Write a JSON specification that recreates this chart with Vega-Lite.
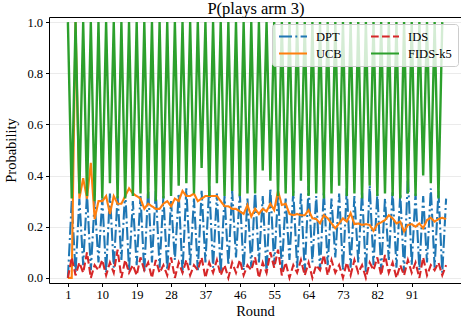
{
"$schema":"https://vega.github.io/schema/vega-lite/v6.json",
"width":412,"height":266,
"autosize":{"type":"none"},
"padding":{"left":49,"top":17,"right":0,"bottom":43},
"title":{"text":"P(plays arm 3)","font":"Liberation Serif","fontSize":16.5,"fontWeight":"normal","color":"black","offset":-1,"anchor":"middle","dx":1},
"data":{"values":[
{"r":1,"DPT":0.00,"UCB":0,"IDS":0.00,"FIDS-k5":1},
{"r":2,"DPT":0.30,"UCB":0,"IDS":0.08,"FIDS-k5":0.31},
{"r":3,"DPT":0.02,"UCB":1,"IDS":0.01,"FIDS-k5":1},
{"r":4,"DPT":0.31,"UCB":0.31,"IDS":0.06,"FIDS-k5":0.33},
{"r":5,"DPT":0.05,"UCB":0.39,"IDS":0.02,"FIDS-k5":1},
{"r":6,"DPT":0.33,"UCB":0.31,"IDS":0.10,"FIDS-k5":0.32},
{"r":7,"DPT":0.03,"UCB":0.45,"IDS":0.00,"FIDS-k5":1},
{"r":8,"DPT":0.30,"UCB":0.23,"IDS":0.05,"FIDS-k5":0.30},
{"r":9,"DPT":0.06,"UCB":0.30,"IDS":0.03,"FIDS-k5":1},
{"r":10,"DPT":0.31,"UCB":0.30,"IDS":0.07,"FIDS-k5":0.31},
{"r":11,"DPT":0.02,"UCB":0.32,"IDS":0.01,"FIDS-k5":1},
{"r":12,"DPT":0.33,"UCB":0.25,"IDS":0.06,"FIDS-k5":0.37},
{"r":13,"DPT":0.04,"UCB":0.32,"IDS":0.02,"FIDS-k5":1},
{"r":14,"DPT":0.32,"UCB":0.29,"IDS":0.11,"FIDS-k5":0.31},
{"r":15,"DPT":0.07,"UCB":0.29,"IDS":0.00,"FIDS-k5":1},
{"r":16,"DPT":0.34,"UCB":0.32,"IDS":0.07,"FIDS-k5":0.31},
{"r":17,"DPT":0.03,"UCB":0.35,"IDS":0.02,"FIDS-k5":1},
{"r":18,"DPT":0.30,"UCB":0.33,"IDS":0.05,"FIDS-k5":0.32},
{"r":19,"DPT":0.05,"UCB":0.32,"IDS":0.01,"FIDS-k5":1},
{"r":20,"DPT":0.32,"UCB":0.31,"IDS":0.08,"FIDS-k5":0.33},
{"r":21,"DPT":0.02,"UCB":0.27,"IDS":0.03,"FIDS-k5":1},
{"r":22,"DPT":0.35,"UCB":0.29,"IDS":0.06,"FIDS-k5":0.31},
{"r":23,"DPT":0.06,"UCB":0.28,"IDS":0.00,"FIDS-k5":1},
{"r":24,"DPT":0.34,"UCB":0.27,"IDS":0.07,"FIDS-k5":0.30},
{"r":25,"DPT":0.04,"UCB":0.27,"IDS":0.02,"FIDS-k5":1},
{"r":26,"DPT":0.32,"UCB":0.29,"IDS":0.05,"FIDS-k5":0.31},
{"r":27,"DPT":0.03,"UCB":0.30,"IDS":0.01,"FIDS-k5":1},
{"r":28,"DPT":0.30,"UCB":0.28,"IDS":0.08,"FIDS-k5":0.32},
{"r":29,"DPT":0.07,"UCB":0.31,"IDS":0.00,"FIDS-k5":1},
{"r":30,"DPT":0.33,"UCB":0.30,"IDS":0.06,"FIDS-k5":0.36},
{"r":31,"DPT":0.02,"UCB":0.34,"IDS":0.02,"FIDS-k5":1},
{"r":32,"DPT":0.35,"UCB":0.32,"IDS":0.07,"FIDS-k5":0.37},
{"r":33,"DPT":0.05,"UCB":0.32,"IDS":0.01,"FIDS-k5":1},
{"r":34,"DPT":0.31,"UCB":0.33,"IDS":0.05,"FIDS-k5":0.33},
{"r":35,"DPT":0.03,"UCB":0.30,"IDS":0.03,"FIDS-k5":1},
{"r":36,"DPT":0.34,"UCB":0.31,"IDS":0.08,"FIDS-k5":0.43},
{"r":37,"DPT":0.06,"UCB":0.32,"IDS":0.00,"FIDS-k5":1},
{"r":38,"DPT":0.36,"UCB":0.32,"IDS":0.06,"FIDS-k5":0.32},
{"r":39,"DPT":0.04,"UCB":0.32,"IDS":0.02,"FIDS-k5":1},
{"r":40,"DPT":0.33,"UCB":0.32,"IDS":0.07,"FIDS-k5":0.37},
{"r":41,"DPT":0.02,"UCB":0.30,"IDS":0.01,"FIDS-k5":1},
{"r":42,"DPT":0.32,"UCB":0.28,"IDS":0.05,"FIDS-k5":0.32},
{"r":43,"DPT":0.05,"UCB":0.28,"IDS":0.00,"FIDS-k5":1},
{"r":44,"DPT":0.34,"UCB":0.27,"IDS":0.06,"FIDS-k5":0.34},
{"r":45,"DPT":0.08,"UCB":0.27,"IDS":0.02,"FIDS-k5":1},
{"r":46,"DPT":0.33,"UCB":0.26,"IDS":0.07,"FIDS-k5":0.32},
{"r":47,"DPT":0.03,"UCB":0.25,"IDS":0.01,"FIDS-k5":1},
{"r":48,"DPT":0.31,"UCB":0.285,"IDS":0.05,"FIDS-k5":0.33},
{"r":49,"DPT":0.04,"UCB":0.24,"IDS":0.03,"FIDS-k5":1},
{"r":50,"DPT":0.34,"UCB":0.27,"IDS":0.08,"FIDS-k5":0.33},
{"r":51,"DPT":0.06,"UCB":0.25,"IDS":0.00,"FIDS-k5":1},
{"r":52,"DPT":0.32,"UCB":0.27,"IDS":0.06,"FIDS-k5":0.42},
{"r":53,"DPT":0.02,"UCB":0.26,"IDS":0.02,"FIDS-k5":1},
{"r":54,"DPT":0.35,"UCB":0.29,"IDS":0.10,"FIDS-k5":0.38},
{"r":55,"DPT":0.05,"UCB":0.265,"IDS":0.04,"FIDS-k5":1},
{"r":56,"DPT":0.33,"UCB":0.34,"IDS":0.11,"FIDS-k5":0.32},
{"r":57,"DPT":0.03,"UCB":0.285,"IDS":0.01,"FIDS-k5":1},
{"r":58,"DPT":0.31,"UCB":0.29,"IDS":0.06,"FIDS-k5":0.33},
{"r":59,"DPT":0.07,"UCB":0.25,"IDS":0.00,"FIDS-k5":1},
{"r":60,"DPT":0.34,"UCB":0.245,"IDS":0.05,"FIDS-k5":0.32},
{"r":61,"DPT":0.04,"UCB":0.25,"IDS":0.02,"FIDS-k5":1},
{"r":62,"DPT":0.33,"UCB":0.245,"IDS":0.07,"FIDS-k5":0.38},
{"r":63,"DPT":0.02,"UCB":0.245,"IDS":0.01,"FIDS-k5":1},
{"r":64,"DPT":0.36,"UCB":0.265,"IDS":0.06,"FIDS-k5":0.32},
{"r":65,"DPT":0.06,"UCB":0.233,"IDS":0.00,"FIDS-k5":1},
{"r":66,"DPT":0.32,"UCB":0.23,"IDS":0.05,"FIDS-k5":0.33},
{"r":67,"DPT":0.03,"UCB":0.213,"IDS":0.03,"FIDS-k5":1},
{"r":68,"DPT":0.34,"UCB":0.245,"IDS":0.09,"FIDS-k5":0.31},
{"r":69,"DPT":0.05,"UCB":0.233,"IDS":0.01,"FIDS-k5":1},
{"r":70,"DPT":0.31,"UCB":0.213,"IDS":0.07,"FIDS-k5":0.33},
{"r":71,"DPT":0.08,"UCB":0.194,"IDS":0.02,"FIDS-k5":1},
{"r":72,"DPT":0.33,"UCB":0.213,"IDS":0.05,"FIDS-k5":0.36},
{"r":73,"DPT":0.03,"UCB":0.233,"IDS":0.00,"FIDS-k5":1},
{"r":74,"DPT":0.35,"UCB":0.22,"IDS":0.06,"FIDS-k5":0.32},
{"r":75,"DPT":0.04,"UCB":0.253,"IDS":0.01,"FIDS-k5":1},
{"r":76,"DPT":0.32,"UCB":0.21,"IDS":0.07,"FIDS-k5":0.33},
{"r":77,"DPT":0.06,"UCB":0.213,"IDS":0.02,"FIDS-k5":1},
{"r":78,"DPT":0.34,"UCB":0.207,"IDS":0.05,"FIDS-k5":0.31},
{"r":79,"DPT":0.02,"UCB":0.21,"IDS":0.00,"FIDS-k5":1},
{"r":80,"DPT":0.36,"UCB":0.207,"IDS":0.06,"FIDS-k5":0.36},
{"r":81,"DPT":0.05,"UCB":0.184,"IDS":0.03,"FIDS-k5":1},
{"r":82,"DPT":0.33,"UCB":0.21,"IDS":0.08,"FIDS-k5":0.32},
{"r":83,"DPT":0.03,"UCB":0.217,"IDS":0.01,"FIDS-k5":1},
{"r":84,"DPT":0.31,"UCB":0.226,"IDS":0.09,"FIDS-k5":0.33},
{"r":85,"DPT":0.07,"UCB":0.245,"IDS":0.02,"FIDS-k5":1},
{"r":86,"DPT":0.34,"UCB":0.233,"IDS":0.06,"FIDS-k5":0.32},
{"r":87,"DPT":0.04,"UCB":0.213,"IDS":0.00,"FIDS-k5":1},
{"r":88,"DPT":0.33,"UCB":0.22,"IDS":0.05,"FIDS-k5":0.31},
{"r":89,"DPT":0.02,"UCB":0.181,"IDS":0.01,"FIDS-k5":1},
{"r":90,"DPT":0.40,"UCB":0.207,"IDS":0.07,"FIDS-k5":0.33},
{"r":91,"DPT":0.05,"UCB":0.21,"IDS":0.02,"FIDS-k5":1},
{"r":92,"DPT":0.33,"UCB":0.20,"IDS":0.06,"FIDS-k5":0.32},
{"r":93,"DPT":0.03,"UCB":0.213,"IDS":0.00,"FIDS-k5":1},
{"r":94,"DPT":0.32,"UCB":0.194,"IDS":0.08,"FIDS-k5":0.40},
{"r":95,"DPT":0.06,"UCB":0.226,"IDS":0.01,"FIDS-k5":1},
{"r":96,"DPT":0.35,"UCB":0.235,"IDS":0.05,"FIDS-k5":0.37},
{"r":97,"DPT":0.04,"UCB":0.22,"IDS":0.03,"FIDS-k5":1},
{"r":98,"DPT":0.34,"UCB":0.23,"IDS":0.06,"FIDS-k5":0.31},
{"r":99,"DPT":0.02,"UCB":0.235,"IDS":0.01,"FIDS-k5":1},
{"r":100,"DPT":0.31,"UCB":0.23,"IDS":0.05,"FIDS-k5":null}
]},
"transform":[{"fold":["DPT","UCB","IDS","FIDS-k5"],"as":["method","p"]}],
"encoding":{
"x":{"field":"r","type":"quantitative","scale":{"domain":[-3.95,103.9],"nice":false,"zero":false},"axis":null},
"y":{"field":"p","type":"quantitative","scale":{"domain":[-0.02,1.02],"nice":false,"zero":false},"axis":{"values":[0,0.2,0.4,0.6,0.8,1.0],"format":".1f","title":"Probability","grid":true,"tickSize":3.5,"labelPadding":3,"titlePadding":8}},
"color":{"field":"method","type":"nominal","scale":{"domain":["DPT","UCB","IDS","FIDS-k5"],"range":["#1f77b4","#ff7f0e","#d62728","#2ca02c"]},"legend":{"title":null}},
"strokeDash":{"field":"method","type":"nominal","scale":{"domain":["DPT","UCB","IDS","FIDS-k5"],"range":[[13,3.3,2,3.3],[1,0],[7.7,3.3],[1,0]]},"legend":{"title":null}}
},
"layer":[
{"transform":[{"filter":{"field":"method","equal":"DPT"}}],"mark":{"type":"line","strokeWidth":2.1},
 "encoding":{"x":{"field":"r","type":"quantitative","scale":{"domain":[-3.95,103.9],"nice":false,"zero":false},"axis":{"values":[1,10,19,28,37,46,55,64,73,82,91],"title":"Round","grid":false,"tickSize":3.5,"labelPadding":2,"titlePadding":3}}}},
{"transform":[{"filter":{"field":"method","equal":"UCB"}}],"mark":{"type":"line","strokeWidth":2.1},
 "encoding":{"x":{"field":"r","type":"quantitative","scale":{"domain":[-3.95,103.9],"nice":false,"zero":false},"axis":{"orient":"top","labels":false,"ticks":false,"title":null,"grid":false,"domain":true}}}},
{"transform":[{"filter":{"field":"method","equal":"IDS"}}],"mark":{"type":"line","strokeWidth":2.1}},
{"transform":[{"filter":{"field":"method","equal":"FIDS-k5"}}],"mark":{"type":"line","strokeWidth":2.4}}
],
"resolve":{"axis":{"x":"independent"}},
"config":{
"view":{"stroke":null},
"axis":{"labelFont":"Liberation Serif","labelFontSize":12.5,"labelColor":"black","titleFont":"Liberation Serif","titleFontSize":14.5,"titleFontWeight":"normal","titleColor":"black","domainColor":"black","tickColor":"black","gridColor":"#ebebeb","domainWidth":1,"tickWidth":1},
"legend":{"orient":"none","legendX":223,"legendY":7,"columns":2,"fillColor":"rgba(255,255,255,0.8)","strokeColor":"#cccccc","cornerRadius":3,"padding":6,"symbolType":"stroke","symbolSize":784,"symbolStrokeWidth":2,"labelFont":"Liberation Serif","labelFontSize":12.5,"labelColor":"black","labelOffset":8,"columnPadding":28,"rowPadding":4,"clipHeight":13}
}
}
